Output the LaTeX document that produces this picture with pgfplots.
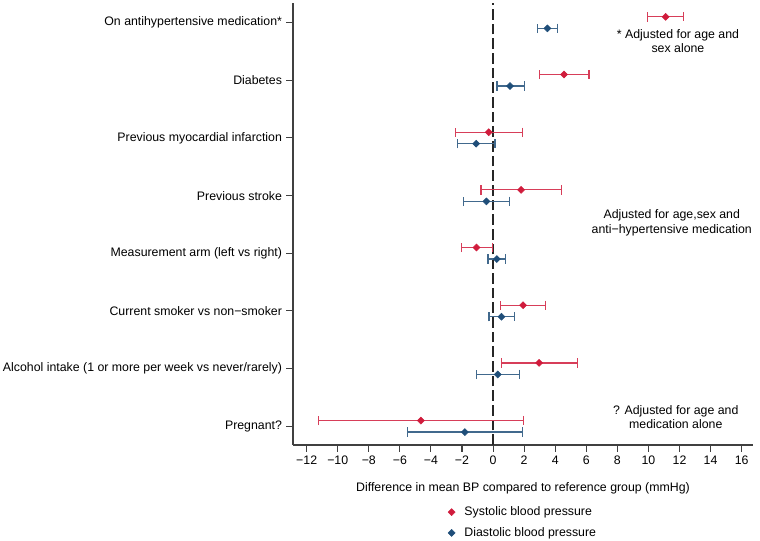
\documentclass[border=0pt]{standalone}
\usepackage{fontspec}
\setmainfont{Liberation Sans}
\usepackage{pgfplots}
\pgfplotsset{compat=1.18}
\definecolor{sbp}{HTML}{D01C3C}
\definecolor{dbp}{HTML}{1F4E79}
\definecolor{axisgray}{HTML}{404040}
\newcommand\ff{\fontsize{9.25}{11}\selectfont}
\begin{document}
\ff
\begin{tikzpicture}
\useasboundingbox (-219.75pt,-72pt) rectangle (350.25pt,333.75pt);
\begin{axis}[
  at={(0pt,0pt)}, anchor=south west,
  scale only axis, width=345pt, height=331.5pt,
  xmin=-12.88, xmax=16.73, ymin=0.676, ymax=8.34,
  axis lines=left,
  axis line style={-, line width=0.8pt, axisgray},
  tick style={line width=0.8pt, axisgray},
  tick align=outside, major tick length=5pt,
  xtick={-12,-10,...,16},
  xticklabels={−12,−10,−8,−6,−4,−2,0,2,4,6,8,10,12,14,16},
  ytick={1,...,8},
  yticklabels={Pregnant?,
    Alcohol intake (1 or more per week vs never/rarely),
    Current smoker vs non−smoker,
    Measurement arm (left vs right),
    Previous stroke,
    Previous myocardial infarction,
    Diabetes,
    On antihypertensive medication*},
  tick label style={font=\ff},
  xlabel={Difference in mean BP compared to reference group (mmHg)},
  xlabel style={font=\ff, yshift=-7pt},
  legend style={at={(0.328,-0.127)}, anchor=north west, draw=none, fill=none,
    font=\ff, row sep=3.5pt},
  legend cell align=left,
  clip=false,
]
\draw[black!85, line width=1pt, dash pattern=on 8pt off 3pt]
  (axis cs:0,0.676) -- (axis cs:0,8.34);

% systolic
\addplot[only marks, mark=square*, mark size=1.85pt, mark options={rotate=45},
  color=sbp, forget plot,
  error bars/.cd, x dir=both, x explicit, error mark=|,
  error bar style={line width=0.95pt, sbp!85},
  error mark options={sbp!85, mark size=3.5pt, line width=0.95pt}]
coordinates {
  (11.11,8.1) += (1.14,0) -= (1.16,0)
  (4.57,7.1)  += (1.61,0) -= (1.57,0)
  (-0.28,6.1) += (2.17,0) -= (2.15,0)
  (1.80,5.1)  += (2.60,0) -= (2.57,0)
  (-1.07,4.1) += (1.01,0) -= (0.97,0)
  (1.93,3.1)  += (1.44,0) -= (1.46,0)
  (2.96,2.1)  += (2.45,0) -= (2.42,0)
  (-4.65,1.1) += (6.62,0) -= (6.59,0)
};
% diastolic
\addplot[only marks, mark=square*, mark size=1.85pt, mark options={rotate=45},
  color=dbp, forget plot,
  error bars/.cd, x dir=both, x explicit, error mark=|,
  error bar style={line width=0.95pt, dbp!85},
  error mark options={dbp!85, mark size=3.5pt, line width=0.95pt}]
coordinates {
  (3.50,7.9)  += (0.64,0) -= (0.65,0)
  (1.09,6.9)  += (0.95,0) -= (0.83,0)
  (-1.09,5.9) += (1.22,0) -= (1.21,0)
  (-0.43,4.9) += (1.48,0) -= (1.46,0)
  (0.24,3.9)  += (0.55,0) -= (0.56,0)
  (0.54,2.9)  += (0.83,0) -= (0.80,0)
  (0.30,1.9)  += (1.39,0) -= (1.37,0)
  (-1.82,0.9) += (3.71,0) -= (3.67,0)
};
\addlegendimage{only marks, mark=square*, mark size=1.85pt, mark options={rotate=45}, sbp}
\addlegendentry{\hspace{5pt}Systolic blood pressure}
\addlegendimage{only marks, mark=square*, mark size=1.85pt, mark options={rotate=45}, dbp}
\addlegendentry{\hspace{5pt}Diastolic blood pressure}

\node[align=center, inner sep=0pt] at (axis cs:11.9,7.68)
  {* Adjusted for age and\\sex alone};
\node[align=center, inner sep=0pt] at (axis cs:11.5,4.53)
  {Adjusted for age,sex and\\anti−hypertensive medication};
\node[align=center, inner sep=0pt] at (axis cs:11.76,1.16)
  {? Adjusted for age and\\medication alone};
\end{axis}
\end{tikzpicture}
\end{document}
